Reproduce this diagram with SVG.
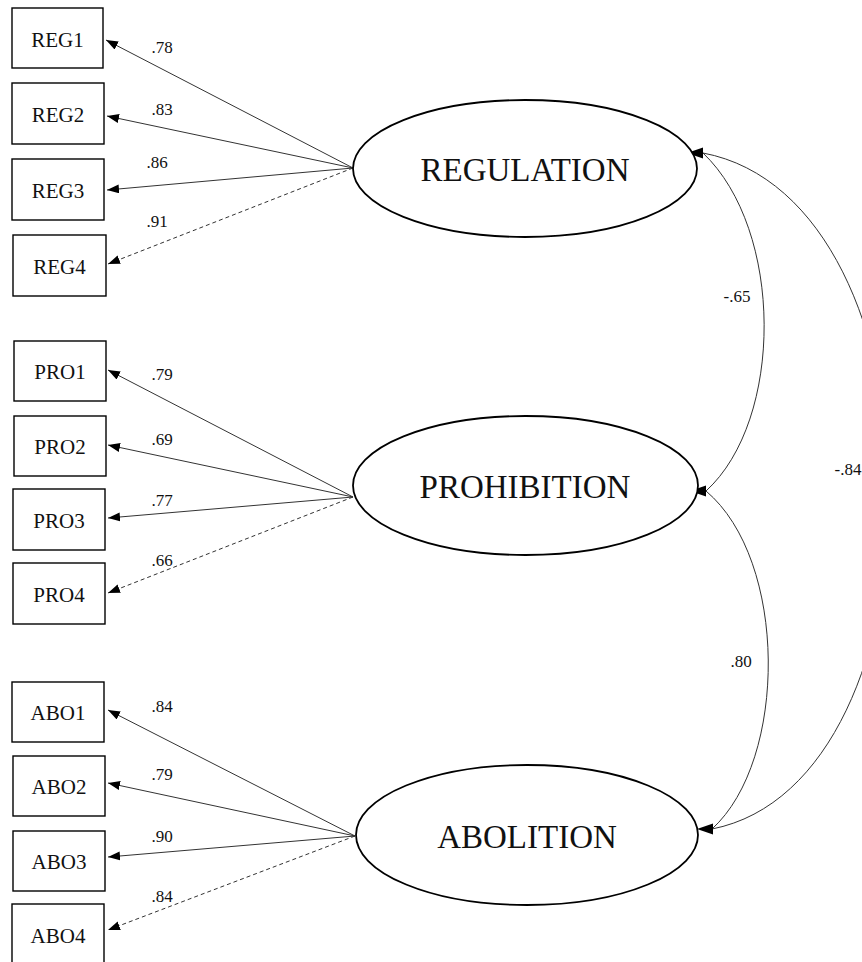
<svg xmlns="http://www.w3.org/2000/svg" xmlns:xlink="http://www.w3.org/1999/xlink" width="862" height="962" viewBox="0 0 862 962">
<style>
.box{fill:#fff;stroke:#000;stroke-width:1.4}
.lat{fill:#fff;stroke:#000;stroke-width:1.8}
.bt{font-family:"Liberation Serif","Times New Roman",serif;font-size:21px;text-anchor:middle;fill:#111}
.lt{font-family:"Liberation Serif","Times New Roman",serif;font-size:33px;text-anchor:middle;fill:#111}
.lab{font-family:"Liberation Serif","Times New Roman",serif;font-size:17px;text-anchor:middle;fill:#111}
.ld{fill:none;stroke:#333;stroke-width:1;marker-end:url(#arr)}
.dash{stroke-dasharray:4 3}
.cov{fill:none;stroke:#333;stroke-width:1}
.ah{fill:#000}
</style>
<defs>
<marker id="arr" markerUnits="userSpaceOnUse" markerWidth="14" markerHeight="10" refX="12" refY="4.5" orient="auto">
<path d="M0,0 L12,4.5 L0,9 Z" fill="#000"/>
</marker>
<path id="ah" class="ah" d="M0,0 L16,-5.5 L16,5.5 Z"/>
</defs>

<g id="connectors">
<line class="ld" x1="353" y1="168" x2="106" y2="40"/>
<line class="ld" x1="353" y1="168" x2="107" y2="116"/>
<line class="ld" x1="353" y1="168" x2="107" y2="190"/>
<line class="ld dash" x1="353" y1="168" x2="108" y2="264"/>
<line class="ld" x1="353" y1="497" x2="108" y2="370"/>
<line class="ld" x1="353" y1="497" x2="108" y2="445"/>
<line class="ld" x1="353" y1="497" x2="108" y2="518"/>
<line class="ld dash" x1="353" y1="497" x2="108" y2="593"/>
<line class="ld" x1="355" y1="836" x2="108" y2="710"/>
<line class="ld" x1="355" y1="836" x2="108" y2="783"/>
<line class="ld" x1="355" y1="836" x2="108" y2="857"/>
<line class="ld dash" x1="355" y1="836" x2="108" y2="930"/>
<path class="cov" d="M703 153 C784 230 784 420 706 491"/>
<path class="cov" d="M706 491 C788 560 788 760 712 829"/>
<path class="cov" d="M703 153 C951 200 951 782 712 829"/>
<use xlink:href="#ah" x="687" y="153"/>
<use xlink:href="#ah" x="690" y="491"/>
<use xlink:href="#ah" x="697" y="829"/>
<text class="lab" x="162" y="53">.78</text>
<text class="lab" x="162" y="115">.83</text>
<text class="lab" x="157" y="168">.86</text>
<text class="lab" x="157" y="227">.91</text>
<text class="lab" x="162" y="380">.79</text>
<text class="lab" x="162" y="445">.69</text>
<text class="lab" x="162" y="506">.77</text>
<text class="lab" x="162" y="566">.66</text>
<text class="lab" x="162" y="712">.84</text>
<text class="lab" x="162" y="780">.79</text>
<text class="lab" x="162" y="842">.90</text>
<text class="lab" x="162" y="902">.84</text>
<text class="lab" x="737" y="302">-.65</text>
<text class="lab" x="741" y="667">.80</text>
<text class="lab" x="848" y="475">-.84</text>
</g>

<g id="REG1"><rect class="box" x="12" y="8" width="91" height="60"/><text class="bt" x="57.5" y="47">REG1</text></g>
<g id="REG2"><rect class="box" x="12" y="83" width="92" height="61"/><text class="bt" x="58" y="122">REG2</text></g>
<g id="REG3"><rect class="box" x="12" y="159" width="92" height="61"/><text class="bt" x="58" y="198">REG3</text></g>
<g id="REG4"><rect class="box" x="13" y="235" width="93" height="61"/><text class="bt" x="59.5" y="274">REG4</text></g>

<g id="PRO1"><rect class="box" x="14" y="341" width="92" height="60"/><text class="bt" x="60" y="379">PRO1</text></g>
<g id="PRO2"><rect class="box" x="14" y="416" width="92" height="60"/><text class="bt" x="60" y="454">PRO2</text></g>
<g id="PRO3"><rect class="box" x="13" y="489" width="92" height="61"/><text class="bt" x="59" y="528">PRO3</text></g>
<g id="PRO4"><rect class="box" x="13" y="563" width="92" height="61"/><text class="bt" x="59" y="602">PRO4</text></g>

<g id="ABO1"><rect class="box" x="12" y="682" width="92" height="60"/><text class="bt" x="58" y="720">ABO1</text></g>
<g id="ABO2"><rect class="box" x="13" y="756" width="92" height="60"/><text class="bt" x="59" y="794">ABO2</text></g>
<g id="ABO3"><rect class="box" x="13" y="831" width="92" height="60"/><text class="bt" x="59" y="869">ABO3</text></g>
<g id="ABO4"><rect class="box" x="12" y="904" width="92" height="62"/><text class="bt" x="58" y="943">ABO4</text></g>

<g id="REGULATION"><ellipse class="lat" cx="525" cy="168.5" rx="172" ry="68.5"/><text class="lt" x="525" y="181">REGULATION</text></g>
<g id="PROHIBITION"><ellipse class="lat" cx="525.5" cy="485.5" rx="172.5" ry="69.5"/><text class="lt" x="525" y="498">PROHIBITION</text></g>
<g id="ABOLITION"><ellipse class="lat" cx="527" cy="835" rx="171" ry="70"/><text class="lt" x="527" y="848">ABOLITION</text></g>
</svg>
